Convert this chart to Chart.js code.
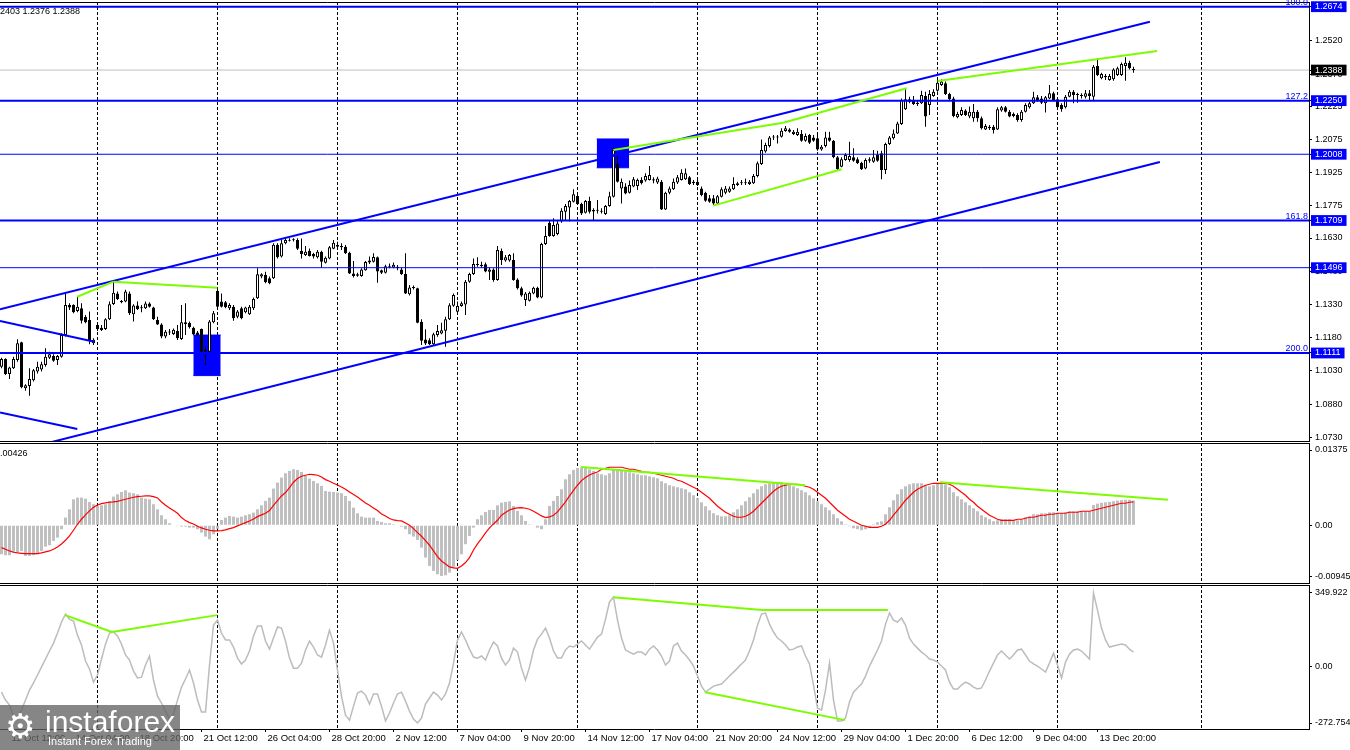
<!DOCTYPE html>
<html>
<head>
<meta charset="utf-8">
<title>GBPUSD H4</title>
<script src="https://cdn.jsdelivr.net/npm/chart.js@4.4.1/dist/chart.umd.min.js"></script>
<style>
  html, body { margin:0; padding:0; background:#ffffff; }
  body { width:1350px; height:750px; position:relative; overflow:hidden; }
  canvas { position:absolute; left:0; }
  #c1 { top:0; }
  #c2 { top:441px; }
  #c3 { top:583px; }
  #wm { position:absolute; left:0; top:705px; width:180px; height:45px; background:rgba(100,100,100,0.78); color:#fff; font-family:'Liberation Sans', Arial, sans-serif; z-index:5; overflow:hidden; }
  #wm .g { position:absolute; left:5px; top:1px; font:34px 'DejaVu Sans', sans-serif; line-height:40px; }
  #wm .t1 { position:absolute; left:45px; top:2px; font-size:30px; line-height:30px; }
  #wm .t2 { position:absolute; left:48px; top:30px; font-size:11px; line-height:13px; }
</style>
</head>
<body>
<canvas id="c1" width="1350" height="443"></canvas>
<canvas id="c2" width="1350" height="144"></canvas>
<canvas id="c3" width="1350" height="167"></canvas>
<div id="wm"><span class="g">⚙</span><span class="t1">instaforex</span><span class="t2">Instant Forex Trading</span></div>
<script>
// ---------------- data ----------------
const timeLabels = ['11 Oct 12:00','14 Oct 04:00','18 Oct 20:00','21 Oct 12:00','26 Oct 04:00','28 Oct 20:00','2 Nov 12:00','7 Nov 04:00','9 Nov 20:00','14 Nov 12:00','17 Nov 04:00','21 Nov 20:00','24 Nov 12:00','29 Nov 04:00','1 Dec 20:00','6 Dec 12:00','9 Dec 04:00','13 Dec 20:00'];
const labelBars = [2,18,34,50,66,82,98,114,130,146,162,178,194,210,226,242,258,274];
const gridBars = [24,54,84,114,144,174,204,234,264,300];

const open = [
1.1049,1.1084,1.1016,1.1042,1.1079,1.1159,1.0952,1.0962,1.0988,1.1027,
1.1037,1.1057,1.1090,1.1098,1.1079,1.1094,1.1192,1.1328,1.1328,1.1301,
1.1313,1.1274,1.1260,1.1155,1.1237,1.1225,1.1219,1.1263,1.1332,1.1380,
1.1346,1.1343,1.1380,1.1286,1.1325,1.1313,1.1313,1.1334,1.1316,1.1260,
1.1240,1.1185,1.1204,1.1197,1.1210,1.1174,1.1242,1.1248,1.1225,1.1203,
1.1219,1.1125,1.1117,1.1250,1.1391,1.1343,1.1340,1.1313,1.1320,1.1275,
1.1313,1.1295,1.1286,1.1313,1.1358,1.1456,1.1463,1.1448,1.1448,1.1599,
1.1546,1.1606,1.1618,1.1620,1.1621,1.1573,1.1553,1.1573,1.1558,1.1543,
1.1568,1.1518,1.1538,1.1582,1.1598,1.1594,1.1591,1.1564,1.1470,1.1460,
1.1458,1.1485,1.1519,1.1523,1.1543,1.1485,1.1473,1.1500,1.1497,1.1500,
1.1488,1.1467,1.1376,1.1407,1.1403,1.1252,1.1172,1.1169,1.1151,1.1192,
1.1199,1.1211,1.1263,1.1324,1.1297,1.1323,1.1330,1.1433,1.1467,1.1508,
1.1509,1.1512,1.1478,1.1488,1.1440,1.1573,1.1528,1.1528,1.1531,1.1443,
1.1403,1.1350,1.1347,1.1380,1.1406,1.1362,1.1603,1.1699,1.1639,1.1648,
1.1704,1.1749,1.1768,1.1794,1.1820,1.1783,1.1744,1.1797,1.1756,1.1753,
1.1749,1.1738,1.1774,1.1816,1.1964,1.1854,1.1862,1.1834,1.1862,1.1865,
1.1892,1.1889,1.1892,1.1895,1.1880,1.1884,1.1759,1.1834,1.1850,1.1880,
1.1892,1.1895,1.1904,1.1884,1.1884,1.1854,1.1834,1.1809,1.1809,1.1786,
1.1816,1.1834,1.1839,1.1850,1.1869,1.1877,1.1877,1.1874,1.1877,1.1910,
1.1964,1.2020,1.2045,1.2084,1.2087,1.2087,1.2113,1.2120,1.2099,1.2095,
1.2099,1.2069,1.2095,1.2084,1.2080,1.2030,1.2045,1.2084,1.2069,1.1994,
1.1952,1.1982,1.1982,1.1994,1.1985,1.1970,1.1944,1.1979,1.1974,1.2005,
1.2012,1.1937,1.2054,1.2080,1.2102,1.2145,1.2211,1.2256,1.2253,1.2235,
1.2238,1.2271,1.2230,1.2271,1.2295,1.2321,1.2328,1.2280,1.2260,1.2175,
1.2185,1.2205,1.2178,1.2170,1.2200,1.2170,1.2120,1.2132,1.2132,1.2120,
1.2205,1.2220,1.2200,1.2190,1.2185,1.2163,1.2200,1.2220,1.2238,1.2265,
1.2260,1.2238,1.2260,1.2283,1.2256,1.2230,1.2220,1.2268,1.2290,1.2275,
1.2271,1.2268,1.2283,1.2268,1.2406,1.2351,1.2361,1.2343,1.2346,1.2366,
1.2366,1.2406,1.2421,1.2390];
const high = [
1.1090,1.1087,1.1049,1.1094,1.1173,1.1162,1.0970,1.1042,1.1039,1.1072,
1.1072,1.1132,1.1117,1.1105,1.1102,1.1200,1.1380,1.1335,1.1331,1.1365,
1.1335,1.1283,1.1298,1.1177,1.1245,1.1237,1.1268,1.1343,1.1433,1.1388,
1.1350,1.1396,1.1388,1.1331,1.1343,1.1328,1.1343,1.1340,1.1320,1.1275,
1.1245,1.1215,1.1219,1.1222,1.1237,1.1328,1.1335,1.1253,1.1230,1.1210,
1.1222,1.1140,1.1260,1.1301,1.1396,1.1380,1.1346,1.1335,1.1328,1.1305,
1.1320,1.1320,1.1328,1.1361,1.1493,1.1471,1.1478,1.1456,1.1606,1.1606,
1.1621,1.1629,1.1629,1.1629,1.1629,1.1628,1.1594,1.1583,1.1564,1.1576,
1.1573,1.1546,1.1594,1.1621,1.1613,1.1606,1.1598,1.1568,1.1526,1.1473,
1.1493,1.1526,1.1546,1.1561,1.1546,1.1488,1.1509,1.1515,1.1520,1.1508,
1.1496,1.1561,1.1418,1.1416,1.1406,1.1263,1.1218,1.1177,1.1202,1.1237,
1.1248,1.1275,1.1335,1.1380,1.1343,1.1343,1.1440,1.1473,1.1538,1.1543,
1.1523,1.1519,1.1497,1.1493,1.1594,1.1583,1.1553,1.1558,1.1561,1.1448,
1.1410,1.1386,1.1388,1.1410,1.1410,1.1609,1.1684,1.1711,1.1719,1.1708,
1.1764,1.1783,1.1801,1.1850,1.1832,1.1789,1.1801,1.1816,1.1764,1.1801,
1.1764,1.1779,1.1839,1.2039,1.2005,1.1899,1.1877,1.1889,1.1905,1.1899,
1.1904,1.1922,1.1955,1.1904,1.1907,1.1892,1.1839,1.1862,1.1899,1.1914,
1.1940,1.1944,1.1910,1.1892,1.1892,1.1862,1.1839,1.1824,1.1824,1.1824,
1.1859,1.1865,1.1862,1.1904,1.1884,1.1892,1.1899,1.1892,1.1919,1.1975,
1.2075,1.2060,1.2090,1.2095,1.2095,1.2125,1.2136,1.2125,1.2117,1.2125,
1.2117,1.2102,1.2099,1.2095,1.2095,1.2050,1.2110,1.2110,1.2072,1.2000,
1.1994,1.2012,1.2065,1.2035,1.1994,1.1974,1.1990,1.1994,1.2027,1.2024,
1.2024,1.2060,1.2090,1.2120,1.2155,1.2260,1.2301,1.2268,1.2271,1.2253,
1.2295,1.2290,1.2298,1.2301,1.2346,1.2346,1.2336,1.2286,1.2268,1.2200,
1.2220,1.2211,1.2223,1.2235,1.2208,1.2178,1.2145,1.2140,1.2140,1.2220,
1.2226,1.2226,1.2208,1.2196,1.2193,1.2208,1.2238,1.2245,1.2290,1.2275,
1.2271,1.2271,1.2321,1.2290,1.2260,1.2238,1.2275,1.2298,1.2298,1.2286,
1.2283,1.2298,1.2298,1.2411,1.2441,1.2376,1.2370,1.2370,1.2396,1.2403,
1.2422,1.2446,1.2430,1.2403];
const low = [
1.1042,1.1012,1.0994,1.1039,1.1072,1.0952,1.0941,1.0918,1.0982,1.1019,
1.1027,1.1049,1.1084,1.1072,1.1057,1.1090,1.1185,1.1305,1.1290,1.1295,
1.1244,1.1245,1.1150,1.1147,1.1210,1.1210,1.1215,1.1260,1.1328,1.1350,
1.1335,1.1340,1.1283,1.1253,1.1305,1.1295,1.1310,1.1316,1.1260,1.1237,
1.1177,1.1177,1.1192,1.1192,1.1170,1.1170,1.1192,1.1222,1.1192,1.1189,
1.1114,1.1057,1.1113,1.1245,1.1316,1.1316,1.1313,1.1305,1.1256,1.1268,
1.1263,1.1290,1.1283,1.1305,1.1355,1.1448,1.1426,1.1421,1.1445,1.1538,
1.1542,1.1602,1.1614,1.1614,1.1576,1.1538,1.1549,1.1546,1.1538,1.1538,
1.1497,1.1515,1.1534,1.1579,1.1583,1.1576,1.1558,1.1467,1.1452,1.1455,
1.1455,1.1482,1.1513,1.1519,1.1428,1.1467,1.1470,1.1493,1.1493,1.1485,
1.1463,1.1377,1.1371,1.1398,1.1245,1.1147,1.1147,1.1147,1.1147,1.1184,
1.1196,1.1139,1.1260,1.1320,1.1293,1.1320,1.1282,1.1428,1.1463,1.1500,
1.1497,1.1475,1.1440,1.1433,1.1437,1.1508,1.1523,1.1523,1.1437,1.1398,
1.1365,1.1323,1.1343,1.1376,1.1358,1.1358,1.1598,1.1636,1.1636,1.1643,
1.1699,1.1708,1.1704,1.1790,1.1779,1.1734,1.1741,1.1741,1.1708,1.1741,
1.1741,1.1734,1.1771,1.1813,1.1880,1.1786,1.1827,1.1831,1.1859,1.1847,
1.1872,1.1884,1.1889,1.1877,1.1874,1.1756,1.1756,1.1828,1.1847,1.1874,
1.1889,1.1892,1.1869,1.1869,1.1865,1.1819,1.1794,1.1789,1.1779,1.1783,
1.1813,1.1828,1.1834,1.1847,1.1865,1.1869,1.1869,1.1869,1.1874,1.1904,
1.1959,1.2015,1.2039,1.2072,1.2057,1.2084,1.2110,1.2105,1.2095,1.2090,
1.2065,1.2065,1.2054,1.2065,1.2024,1.2024,1.2039,1.2065,1.1990,1.1937,
1.1949,1.1979,1.1974,1.1974,1.1964,1.1937,1.1940,1.1970,1.1970,1.1974,
1.1895,1.1919,1.2050,1.2075,1.2099,1.2140,1.2208,1.2238,1.2230,1.2226,
1.2235,1.2132,1.2185,1.2268,1.2290,1.2316,1.2275,1.2250,1.2175,1.2170,
1.2181,1.2181,1.2170,1.2155,1.2155,1.2120,1.2118,1.2118,1.2102,1.2118,
1.2200,1.2196,1.2175,1.2175,1.2155,1.2155,1.2196,1.2215,1.2235,1.2245,
1.2235,1.2196,1.2256,1.2250,1.2211,1.2200,1.2215,1.2265,1.2238,1.2241,
1.2260,1.2260,1.2253,1.2253,1.2361,1.2346,1.2343,1.2340,1.2340,1.2361,
1.2361,1.2340,1.2391,1.2376];
const close = [
1.1084,1.1016,1.1046,1.1084,1.1155,1.0956,1.0965,1.0994,1.1033,1.1049,
1.1060,1.1094,1.1105,1.1076,1.1098,1.1192,1.1328,1.1316,1.1295,1.1320,
1.1257,1.1250,1.1170,1.1171,1.1219,1.1215,1.1263,1.1331,1.1383,1.1355,
1.1340,1.1388,1.1290,1.1325,1.1310,1.1317,1.1334,1.1320,1.1263,1.1240,
1.1185,1.1207,1.1207,1.1216,1.1177,1.1250,1.1250,1.1227,1.1195,1.1192,
1.1117,1.1117,1.1253,1.1290,1.1320,1.1320,1.1317,1.1328,1.1268,1.1298,
1.1268,1.1316,1.1320,1.1355,1.1466,1.1466,1.1430,1.1426,1.1599,1.1543,
1.1606,1.1621,1.1621,1.1623,1.1581,1.1558,1.1568,1.1549,1.1546,1.1568,
1.1523,1.1541,1.1588,1.1609,1.1591,1.1588,1.1561,1.1470,1.1458,1.1466,
1.1488,1.1522,1.1528,1.1544,1.1479,1.1473,1.1503,1.1503,1.1509,1.1494,
1.1467,1.1380,1.1407,1.1404,1.1248,1.1166,1.1154,1.1151,1.1196,1.1210,
1.1214,1.1263,1.1327,1.1373,1.1323,1.1335,1.1433,1.1467,1.1513,1.1512,
1.1503,1.1479,1.1488,1.1440,1.1576,1.1531,1.1543,1.1553,1.1440,1.1403,
1.1370,1.1380,1.1383,1.1406,1.1362,1.1603,1.1639,1.1639,1.1689,1.1696,
1.1753,1.1774,1.1797,1.1827,1.1783,1.1741,1.1797,1.1749,1.1750,1.1756,
1.1753,1.1774,1.1819,1.2027,1.1884,1.1884,1.1831,1.1869,1.1895,1.1892,
1.1877,1.1910,1.1914,1.1889,1.1899,1.1759,1.1834,1.1854,1.1884,1.1904,
1.1925,1.1922,1.1874,1.1877,1.1869,1.1824,1.1798,1.1794,1.1786,1.1819,
1.1850,1.1854,1.1854,1.1874,1.1877,1.1880,1.1881,1.1884,1.1910,1.1967,
1.2027,1.2050,1.2084,1.2087,1.2084,1.2114,1.2125,1.2110,1.2110,1.2110,
1.2069,1.2090,1.2060,1.2069,1.2030,1.2042,1.2084,1.2069,1.1994,1.1940,
1.1985,1.2005,1.2000,1.1979,1.1967,1.1940,1.1982,1.1985,1.1994,1.1979,
1.1937,1.2054,1.2084,1.2102,1.2147,1.2253,1.2256,1.2245,1.2235,1.2241,
1.2275,1.2178,1.2280,1.2290,1.2331,1.2336,1.2280,1.2256,1.2181,1.2190,
1.2208,1.2185,1.2200,1.2200,1.2170,1.2125,1.2135,1.2125,1.2118,1.2211,
1.2220,1.2200,1.2178,1.2181,1.2163,1.2200,1.2230,1.2238,1.2265,1.2253,
1.2241,1.2265,1.2283,1.2253,1.2220,1.2211,1.2268,1.2290,1.2275,1.2280,
1.2275,1.2283,1.2271,1.2403,1.2366,1.2370,1.2355,1.2361,1.2391,1.2396,
1.2415,1.2421,1.2396,1.2388];

const macdMain = [
-0.00530,-0.00548,-0.00548,-0.00499,-0.00499,-0.00469,-0.00560,-0.00560,-0.00548,-0.00530,
-0.00469,-0.00390,-0.00365,-0.00286,-0.00225,-0.00073,0.00140,0.00292,0.00475,0.00505,
0.00505,0.00487,0.00426,0.00384,0.00353,0.00365,0.00384,0.00445,0.00524,0.00566,
0.00609,0.00639,0.00597,0.00585,0.00566,0.00505,0.00487,0.00475,0.00384,0.00292,
0.00183,0.00110,0.00037,0.00000,-0.00012,-0.00024,-0.00024,-0.00043,-0.00043,-0.00073,
-0.00134,-0.00207,-0.00256,-0.00164,-0.00061,0.00097,0.00140,0.00171,0.00158,0.00140,
0.00158,0.00183,0.00201,0.00231,0.00292,0.00365,0.00445,0.00505,0.00670,0.00780,
0.00871,0.00950,0.00993,0.01023,0.01011,0.00974,0.00901,0.00853,0.00810,0.00767,
0.00719,0.00627,0.00615,0.00609,0.00597,0.00585,0.00536,0.00445,0.00323,0.00219,
0.00158,0.00140,0.00140,0.00140,0.00079,0.00061,0.00037,0.00037,0.00018,0.00000,
-0.00024,-0.00073,-0.00164,-0.00207,-0.00268,-0.00408,-0.00591,-0.00743,-0.00834,-0.00895,
-0.00926,-0.00914,-0.00865,-0.00773,-0.00633,-0.00530,-0.00347,-0.00195,-0.00043,0.00110,
0.00183,0.00244,0.00280,0.00280,0.00365,0.00414,0.00426,0.00438,0.00353,0.00262,
0.00183,0.00079,0.00018,0.00000,-0.00043,-0.00073,0.00110,0.00353,0.00445,0.00536,
0.00658,0.00840,0.00932,0.01011,0.01047,0.01054,0.01054,0.01023,0.00993,0.00950,
0.00932,0.00913,0.00950,0.01023,0.01023,0.01005,0.00987,0.00968,0.00950,0.00932,
0.00913,0.00913,0.00895,0.00877,0.00859,0.00804,0.00767,0.00731,0.00712,0.00694,
0.00676,0.00658,0.00603,0.00548,0.00493,0.00420,0.00347,0.00274,0.00219,0.00183,
0.00164,0.00164,0.00183,0.00237,0.00292,0.00365,0.00438,0.00512,0.00585,0.00658,
0.00712,0.00749,0.00767,0.00786,0.00786,0.00786,0.00767,0.00749,0.00712,0.00676,
0.00639,0.00603,0.00548,0.00493,0.00438,0.00384,0.00329,0.00274,0.00201,0.00128,
0.00073,0.00018,-0.00018,-0.00055,-0.00073,-0.00091,-0.00073,-0.00037,0.00018,0.00055,
0.00073,0.00201,0.00329,0.00457,0.00566,0.00658,0.00712,0.00749,0.00767,0.00767,
0.00767,0.00731,0.00712,0.00731,0.00767,0.00786,0.00749,0.00694,0.00603,0.00530,
0.00475,0.00420,0.00365,0.00311,0.00256,0.00183,0.00146,0.00110,0.00073,0.00091,
0.00110,0.00110,0.00110,0.00091,0.00091,0.00110,0.00146,0.00164,0.00201,0.00201,
0.00219,0.00219,0.00237,0.00237,0.00219,0.00219,0.00237,0.00256,0.00256,0.00256,
0.00256,0.00256,0.00256,0.00370,0.00395,0.00410,0.00420,0.00430,0.00440,0.00450,
0.00460,0.00466,0.00466,0.00452];
const macdSignal = [
-0.00408,-0.00438,-0.00469,-0.00493,-0.00505,-0.00512,-0.00518,-0.00518,-0.00518,-0.00518,
-0.00505,-0.00487,-0.00469,-0.00438,-0.00396,-0.00341,-0.00274,-0.00195,-0.00091,0.00018,
0.00110,0.00189,0.00262,0.00329,0.00371,0.00396,0.00408,0.00420,0.00426,0.00438,
0.00457,0.00475,0.00493,0.00512,0.00524,0.00530,0.00536,0.00536,0.00524,0.00499,
0.00426,0.00365,0.00317,0.00268,0.00219,0.00140,0.00085,0.00049,0.00024,-0.00018,
-0.00049,-0.00073,-0.00091,-0.00104,-0.00104,-0.00097,-0.00085,-0.00061,-0.00043,-0.00012,
0.00018,0.00049,0.00079,0.00116,0.00158,0.00189,0.00219,0.00268,0.00365,0.00451,
0.00536,0.00597,0.00688,0.00786,0.00853,0.00895,0.00914,0.00932,0.00926,0.00914,
0.00883,0.00834,0.00804,0.00767,0.00737,0.00700,0.00658,0.00609,0.00560,0.00518,
0.00463,0.00408,0.00365,0.00317,0.00268,0.00207,0.00171,0.00122,0.00097,0.00085,
0.00079,0.00043,0.00000,-0.00061,-0.00134,-0.00201,-0.00280,-0.00365,-0.00469,-0.00572,
-0.00652,-0.00706,-0.00761,-0.00780,-0.00786,-0.00743,-0.00682,-0.00591,-0.00451,-0.00341,
-0.00244,-0.00140,-0.00049,0.00024,0.00091,0.00183,0.00231,0.00280,0.00305,0.00317,
0.00323,0.00311,0.00292,0.00256,0.00213,0.00171,0.00140,0.00152,0.00183,0.00244,
0.00335,0.00426,0.00536,0.00639,0.00731,0.00816,0.00871,0.00920,0.00950,0.00974,
0.01023,0.01041,0.01060,0.01060,0.01060,0.01060,0.01041,0.01023,0.01023,0.01005,
0.00987,0.00968,0.00968,0.00950,0.00932,0.00913,0.00895,0.00877,0.00859,0.00822,
0.00804,0.00767,0.00731,0.00694,0.00658,0.00603,0.00548,0.00493,0.00420,0.00347,
0.00292,0.00238,0.00201,0.00164,0.00146,0.00146,0.00164,0.00201,0.00256,0.00329,
0.00402,0.00475,0.00548,0.00621,0.00676,0.00712,0.00731,0.00749,0.00749,0.00749,
0.00731,0.00712,0.00694,0.00658,0.00603,0.00548,0.00493,0.00420,0.00347,0.00274,
0.00219,0.00164,0.00110,0.00073,0.00037,0.00000,-0.00018,-0.00037,-0.00037,-0.00037,
-0.00018,0.00018,0.00091,0.00183,0.00274,0.00365,0.00457,0.00530,0.00603,0.00658,
0.00694,0.00731,0.00749,0.00767,0.00767,0.00767,0.00767,0.00749,0.00712,0.00658,
0.00603,0.00548,0.00475,0.00420,0.00347,0.00292,0.00238,0.00183,0.00146,0.00110,
0.00091,0.00091,0.00091,0.00091,0.00110,0.00110,0.00128,0.00146,0.00146,0.00164,
0.00183,0.00183,0.00201,0.00201,0.00219,0.00219,0.00219,0.00238,0.00238,0.00238,
0.00256,0.00256,0.00256,0.00274,0.00292,0.00311,0.00329,0.00347,0.00365,0.00384,
0.00402,0.00402,0.00420,0.00426];
const cci = [
-125,-163,-187,-240,-249,-211,-163,-115,-81,-43,
-5,34,72,110,158,211,249,225,216,148,
101,24,-14,-77,-43,34,105,158,163,144,
105,53,29,-24,-57,-53,5,48,-67,-144,
-177,-216,-254,-230,-163,-101,-62,-19,-81,-163,
-220,-220,5,196,220,158,125,125,91,38,
10,29,72,144,192,192,120,81,134,187,
182,120,38,-10,-10,14,77,120,91,53,
43,101,172,110,-19,-144,-235,-259,-192,-129,
-120,-139,-182,-134,-134,-192,-263,-225,-177,-134,
-125,-168,-216,-254,-272.754,-249,-182,-153,-125,-139,
-163,-134,-81,14,125,163,125,81,43,38,
48,29,77,115,96,38,5,29,86,67,
-10,-67,-5,77,129,153,182,134,72,38,
38,77,96,91,105,120,101,81,110,139,
153,225,307,330,220,134,77,67,57,67,
67,53,81,96,77,48,5,24,96,110,
72,53,29,0,-48,-96,-125,-110,-96,-91,
-86,-67,-48,-29,-10,10,29,72,125,196,
249,254,201,163,134,120,101,77,81,91,
96,48,10,-91,-201,-211,-115,14,-163,-263,
-263,-249,-172,-125,-105,-86,-48,0,38,77,
120,201,254,220,211,230,196,134,105,86,
67,53,34,29,19,0,-19,-77,-110,-110,
-91,-77,-86,-101,-110,-105,-67,-24,14,53,
72,53,34,53,77,81,53,24,10,0,
-14,-29,14,62,5,-57,19,57,77,81,
72,53,34,349.922,268,182,125,91,96,101,
105,101,81,67];

const priceTicks = [1.2520,1.2370,1.2225,1.2075,1.1925,1.1775,1.1630,1.1480,1.1330,1.1180,1.1030,1.0880,1.0730];
const levels = [1.2674,1.2250,1.2008,1.1709,1.1496,1.1111];
const thickLevels = [1.2674,1.2250,1.1709,1.1111];
const lastPrice = 1.2388;
const fibLabels = ['100.0','127.2','161.8','200.0'];
const fibLevels = [1.2674,1.2250,1.1709,1.1111];
const headerText = '2403 1.2376 1.2388';
const macdText = '.00426';
const macdTicks = [0.01375, 0, -0.00945];
const macdTickLabels = ['0.01375','0.00','-0.00945'];
const cciTicks = [349.922, 0, -272.754];
const cciTickLabels = ['349.922','0.00','-272.754'];

// trend objects: [bar, value] pairs
const greenMain = [
  [[18.95,1.1365],[27.95,1.1433]],
  [[27.95,1.1433],[53.95,1.1406]],
  [[152.95,1.2027],[195.45,1.2150]],
  [[195.45,1.2150],[226.3,1.2306]],
  [[177.95,1.1776],[210.05,1.1940]],
  [[234.05,1.2339],[288.9,1.2474]]
];
const blueLines = [
  [[-0.375,1.1308],[287.1,1.2606]],
  [[0,1.0652],[289.6,1.1973]],
  [[-0.375,1.1255],[23.2,1.1162]],
  [[-0.375,1.0842],[18.95,1.0768]]
];
const boxes = [ // [startBar, endBar, low, high]
  [47.95, 54.8, 1.1009, 1.1192],
  [148.8, 156.9, 1.1947, 1.2077]
];
const greenMacd = [
  [[144.9,0.01065],[200.9,0.00731]],
  [[234.6,0.00786],[291.6,0.00466]]
];
const greenCci = [
  [[15.9,244],[27.6,163]],
  [[27.6,163],[53.9,244]],
  [[152.9,330],[190.1,268]],
  [[190.1,268],[221.6,268]],
  [[175.9,-125],[210.9,-259]]
];

// ---------------- helpers ----------------
const FONT = "'Liberation Sans', Arial, sans-serif";
const BLUE = '#0000ff';
const GREEN = '#7cfc00';
const X_MIN = -0.375, X_MAX = 326.875;

function lineDS(points, color, width, extra) {
  return Object.assign({
    type: 'line',
    data: points.map(p => ({x: p[0], y: p[1]})),
    borderColor: color, backgroundColor: color, borderWidth: width,
    pointRadius: 0, pointHoverRadius: 0, tension: 0, fill: false
  }, extra || {});
}

function xGridAxis() {
  return {
    type: 'linear', min: X_MIN, max: X_MAX, offset: false, weight: 0,
    grid: { display: true, drawOnChartArea: true, drawTicks: false, color: '#000', lineWidth: 1, offset: false },
    border: { display: false, dash: [3, 2] },
    ticks: { display: false },
    afterBuildTicks: s => { s.ticks = gridBars.map(v => ({value: v})); }
  };
}

function yAxis(min, max, tickVals, labelFn, extra) {
  const ax = {
    position: 'right', min, max, beginAtZero: false,
    grid: { display: true, drawOnChartArea: false, drawTicks: true, tickLength: 3, tickColor: '#000', tickWidth: 1 },
    border: { display: true, color: '#000', width: 1 },
    ticks: { autoSkip: false, padding: 3, font: { family: FONT, size: 9 }, color: '#000', callback: labelFn },
    afterBuildTicks: s => { s.ticks = tickVals.map(v => ({value: v})); },
    afterFit: s => { s.width = 41; s.paddingTop = 0; s.paddingBottom = 0; }
  };
  if (extra) Object.assign(ax.ticks, extra);
  return ax;
}

const framePlugin = {
  id: 'frame',
  afterDraw(chart) {
    const {ctx, chartArea: a} = chart;
    ctx.save();
    ctx.strokeStyle = '#000'; ctx.lineWidth = 1;
    ctx.beginPath();
    ctx.moveTo(0, a.top + 0.5); ctx.lineTo(a.right, a.top + 0.5);
    ctx.moveTo(0, a.bottom + 0.5); ctx.lineTo(a.right, a.bottom + 0.5);
    ctx.stroke();
    ctx.restore();
  }
};

const baseOpts = {
  responsive: false, animation: false, devicePixelRatio: 1, events: [],
  plugins: { legend: { display: false }, tooltip: { enabled: false } }
};

// ---------------- main price chart ----------------
const ds1 = [];
greenMain.forEach(seg => ds1.push(lineDS(seg, GREEN, 2)));
blueLines.forEach(seg => ds1.push(lineDS(seg, BLUE, 2)));
levels.forEach(lv => ds1.push(lineDS([[X_MIN, lv], [X_MAX, lv]], BLUE, thickLevels.includes(lv) ? 2 : 1)));
ds1.push({
  type: 'bar', grouped: false, barThickness: 3, borderWidth: 1, borderSkipped: false, inflateAmount: 0, minBarLength: 1,
  borderColor: '#000',
  backgroundColor: c => (close[c.dataIndex] >= open[c.dataIndex] ? '#ffffff' : '#000000'),
  data: open.map((o, i) => ({x: i, y: [Math.min(o, close[i]), Math.max(o, close[i])]}))
});
ds1.push({
  type: 'bar', grouped: false, barThickness: 1, borderWidth: 0, borderSkipped: false, inflateAmount: 0,
  backgroundColor: '#000',
  data: high.map((h, i) => ({x: i, y: [low[i], h]}))
});
ds1.push(lineDS([[X_MIN, lastPrice], [X_MAX, lastPrice]], '#c0c0c0', 1));
boxes.forEach(b => {
  ds1.push(lineDS([[b[0], b[3]], [b[1], b[3]]], BLUE, 1, { fill: '+1', backgroundColor: BLUE }));
  ds1.push(lineDS([[b[0], b[2]], [b[1], b[2]]], BLUE, 1));
});

const mainTicks = priceTicks.concat(levels, [lastPrice]);
const nReg = priceTicks.length, nLev = levels.length;

const textPlugin1 = {
  id: 'txt1',
  afterDraw(chart) {
    const {ctx, chartArea: a, scales: {y}} = chart;
    ctx.save();
    ctx.font = '9px ' + FONT;
    ctx.fillStyle = BLUE; ctx.textAlign = 'right'; ctx.textBaseline = 'alphabetic';
    fibLevels.forEach((lv, i) => ctx.fillText(fibLabels[i], a.right - 1, Math.round(y.getPixelForValue(lv)) - 2));
    ctx.fillStyle = '#000'; ctx.textAlign = 'left';
    ctx.fillText(headerText, 0, 14);
    ctx.restore();
  }
};

new Chart(document.getElementById('c1'), {
  type: 'line',
  data: { datasets: ds1 },
  options: Object.assign({}, baseOpts, {
    layout: { padding: { top: 2, bottom: 2, left: 0, right: 0 } },
    scales: {
      x: xGridAxis(),
      y: yAxis(1.07138, 1.26952, mainTicks, v => v.toFixed(4), {
        color: c => (c.index >= nReg ? '#ffffff' : '#000000'),
        showLabelBackdrop: c => c.index >= nReg,
        backdropColor: c => (c.index >= nReg + nLev ? '#000000' : BLUE),
        backdropPadding: { top: 0, bottom: 0, left: 4, right: 4 }
      })
    }
  }),
  plugins: [framePlugin, textPlugin1]
});

// ---------------- MACD ----------------
const ds2 = [];
greenMacd.forEach(seg => ds2.push(lineDS(seg, GREEN, 2)));
ds2.push(lineDS(macdSignal.map((v, i) => [i, v]), '#ff0000', 1.2));
ds2.push({
  type: 'bar', grouped: false, barThickness: 3, borderWidth: 0, inflateAmount: 0,
  backgroundColor: '#c0c0c0',
  data: macdMain.map((v, i) => ({x: i, y: v}))
});
const textPlugin2 = {
  id: 'txt2',
  afterDraw(chart) {
    const {ctx} = chart;
    ctx.save();
    ctx.font = '9px ' + FONT; ctx.fillStyle = '#000'; ctx.textAlign = 'left';
    ctx.fillText(macdText, 0, 15);
    ctx.restore();
  }
};
new Chart(document.getElementById('c2'), {
  type: 'line',
  data: { datasets: ds2 },
  options: Object.assign({}, baseOpts, {
    layout: { padding: { top: 2, bottom: 2, left: 0, right: 0 } },
    scales: {
      x: xGridAxis(),
      y: yAxis(-0.01055, 0.01503, macdTicks, (v, i) => macdTickLabels[i])
    }
  }),
  plugins: [framePlugin, textPlugin2]
});

// ---------------- CCI ----------------
const ds3 = [];
greenCci.forEach(seg => ds3.push(lineDS(seg, GREEN, 2)));
ds3.push(lineDS(cci.map((v, i) => [i, v]), '#bcbcbc', 1.5));
new Chart(document.getElementById('c3'), {
  type: 'line',
  data: { datasets: ds3 },
  options: Object.assign({}, baseOpts, {
    layout: { padding: { top: 2, bottom: 0, left: 0, right: 0 } },
    scales: {
      x: xGridAxis(),
      x2: {
        type: 'linear', position: 'bottom', min: X_MIN, max: X_MAX, offset: false, weight: 1,
        grid: { display: true, drawOnChartArea: false, drawTicks: true, tickLength: 3, tickColor: '#000', offset: false },
        border: { display: false },
        ticks: { autoSkip: false, maxRotation: 0, minRotation: 0, align: 'start', labelOffset: 2, padding: 1,
                 color: '#000', font: { family: FONT, size: 9.5 }, callback: (v, i) => timeLabels[i] },
        afterBuildTicks: s => { s.ticks = labelBars.map(v => ({value: v})); },
        afterFit: s => { s.height = 21; s.paddingLeft = 0; s.paddingRight = 0; }
      },
      y: yAxis(-301.49, 388.24, cciTicks, (v, i) => cciTickLabels[i])
    }
  }),
  plugins: [framePlugin]
});
</script>
</body>
</html>
